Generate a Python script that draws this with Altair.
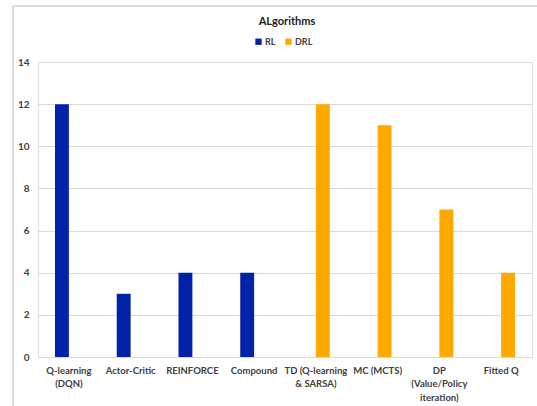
import altair as alt
import pandas as pd

categories = ["Q-learning|(DQN)", "Actor-Critic", "REINFORCE", "Compound",
              "TD (Q-learning|& SARSA)", "MC (MCTS)", "DP|(Value/Policy|iteration)", "Fitted Q"]
series = ["RL", "RL", "RL", "RL", "DRL", "DRL", "DRL", "DRL"]
values = [12, 3, 4, 4, 12, 11, 7, 4]
series_order = ["RL", "DRL"]
colors = ["#0022A8", "#FFA800"]
y_ticks = [0, 2, 4, 6, 8, 10, 12, 14]

df = pd.DataFrame({"category": categories, "series": series, "value": values})

FONT = "Lato"
W, H = 494, 295

bars = alt.Chart(df).mark_bar().encode(
    x=alt.X("category:N", sort=categories, title=None,
            scale=alt.Scale(paddingInner=0.55, paddingOuter=0.275),
            axis=alt.Axis(labelAngle=0, labelExpr="split(datum.label, '|')",
                          labelFont=FONT, labelFontWeight="bold", labelFontSize=9.5,
                          labelColor="#404040", labelLineHeight=13.5, labelPadding=8,
                          labelBaseline="top",
                          ticks=False, domainColor="#D9D9D9", labelLimit=100)),
    xOffset=alt.XOffset("series:N", sort=series_order,
                        scale=alt.Scale(domain=series_order, paddingInner=0, paddingOuter=0)),
    y=alt.Y("value:Q", title=None,
            scale=alt.Scale(domain=[0, 14], nice=False),
            axis=alt.Axis(values=y_ticks, labelFont=FONT, labelFontWeight="bold",
                          labelFontSize=10, labelColor="#404040", labelPadding=9,
                          ticks=False, domain=False, gridColor="#D9D9D9")),
    color=alt.Color("series:N", sort=series_order,
                    scale=alt.Scale(domain=series_order, range=colors),
                    legend=alt.Legend(title=None, orient="none", direction="horizontal",
                                      legendX=216, legendY=-25, symbolType="square",
                                      symbolSize=40, symbolStrokeWidth=0,
                                      labelFont=FONT, labelFontWeight="bold",
                                      labelFontSize=9, labelColor="#404040",
                                      columnPadding=8, labelOffset=2)),
)

frame_left = alt.Chart(df).mark_rule(color="#D9D9D9", strokeWidth=1).encode(
    x=alt.value(-25), y=alt.value(-56), y2=alt.value(344))
frame_top = alt.Chart(df).mark_rule(color="#D9D9D9", strokeWidth=1).encode(
    x=alt.value(-25), x2=alt.value(499), y=alt.value(-56))

chart = alt.layer(frame_left, frame_top, bars).properties(
    width=W, height=H,
    autosize=alt.AutoSizeParams(type="none"),
    padding={"left": 38, "top": 62, "right": 5, "bottom": 49},
    title=alt.TitleParams("ALgorithms", font=FONT, fontSize=11, fontWeight="bold",
                          color="#202020", anchor="middle", offset=-21, dx=2),
).configure_view(stroke=None).configure(background="white")

chart.save("out.html", embed_options={"renderer": "svg", "actions": False})
